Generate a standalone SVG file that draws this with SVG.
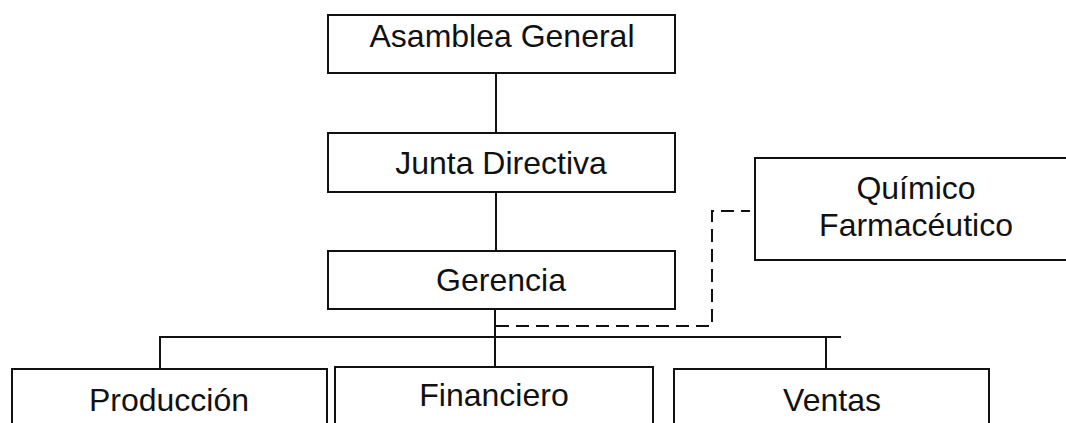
<svg xmlns="http://www.w3.org/2000/svg" width="1066" height="423" viewBox="0 0 1066 423">
<style>
.box{fill:#fff;stroke:#111;stroke-width:2}
.t{font-family:"Liberation Sans",Arial,sans-serif;font-size:32px;fill:#111;text-anchor:middle}
.ln{fill:none;stroke:#111;stroke-width:2}
.dash{fill:none;stroke:#111;stroke-width:2;stroke-dasharray:13 7}
</style>
<rect width="1066" height="423" fill="#fff"/>
<g id="connectors">
<line class="ln" x1="496" y1="73" x2="496" y2="133"/>
<line class="ln" x1="496" y1="192" x2="496" y2="251"/>
<line class="ln" x1="495" y1="309" x2="495" y2="367"/>
<line class="ln" x1="159" y1="337" x2="841" y2="337"/>
<line class="ln" x1="160" y1="336" x2="160" y2="369"/>
<line class="ln" x1="826" y1="336" x2="826" y2="369"/>
<path class="dash" d="M496 326 H712 V211 H750"/>
</g>
<g id="asamblea"><rect class="box" x="328" y="15" width="347" height="58"/><text class="t" x="502" y="47">Asamblea General</text></g>
<g id="junta"><rect class="box" x="328" y="133" width="347" height="59"/><text class="t" x="501" y="174">Junta Directiva</text></g>
<g id="gerencia"><rect class="box" x="328" y="251" width="347" height="58"/><text class="t" x="501" y="291">Gerencia</text></g>
<g id="quimico"><rect class="box" x="755" y="158" width="330" height="102"/><text class="t" x="916" y="199">Químico</text><text class="t" x="916" y="236">Farmacéutico</text></g>
<g id="produccion"><rect class="box" x="12" y="369" width="315" height="70"/><text class="t" x="169" y="411">Producción</text></g>
<g id="financiero"><rect class="box" x="335" y="367" width="318" height="72"/><text class="t" x="494" y="406">Financiero</text></g>
<g id="ventas"><rect class="box" x="674" y="369" width="315" height="70"/><text class="t" x="832" y="411">Ventas</text></g>
</svg>
